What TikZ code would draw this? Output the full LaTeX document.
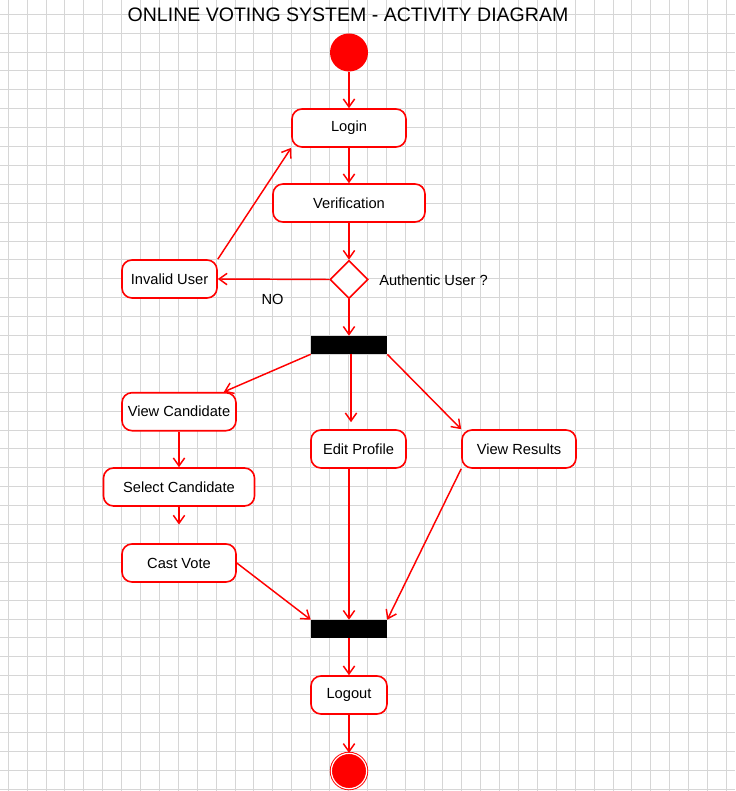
\documentclass[tikz,border=0pt]{standalone}
\usepackage{fontspec}
\setmainfont{Liberation Sans}
\usetikzlibrary{arrows.meta,shapes.geometric,calc}
\definecolor{gridc}{RGB}{214,214,214}
\definecolor{ured}{RGB}{255,0,0}
\begin{document}
\begin{tikzpicture}[x=0.75pt,y=-0.75pt,
  act/.style={draw=ured, line width=1.2pt, rounded corners=7.5pt, fill=white,
    minimum height=28.5pt, inner sep=0pt, font=\fontsize{11pt}{13pt}\selectfont},
  arr/.style={draw=ured, line width=1.1pt,
    -{Straight Barb[length=6pt,width=8.5pt,line width=1.1pt]}},
  barnode/.style={fill=black, minimum width=57pt, minimum height=13.5pt, inner sep=0pt},
  lbl/.style={font=\fontsize{11pt}{13pt}\selectfont, inner sep=0pt}
]
\useasboundingbox (0,0) rectangle (735,791);
\fill[white] (0,0) rectangle (735,791);
\foreach \i in {0,...,38} \draw[gridc, line width=0.75pt] ({8.3+18.898*\i},0) -- ({8.3+18.898*\i},791);
\foreach \i in {0,...,41} \draw[gridc, line width=0.75pt] (0,{14.3+18.898*\i}) -- (735,{14.3+18.898*\i});

\node[font=\fontsize{14.65pt}{16pt}\selectfont, inner sep=0pt] (title) at (348,14.5) {ONLINE VOTING SYSTEM - ACTIVITY DIAGRAM};

\node[circle, fill=ured, minimum size=28.5pt, inner sep=0pt] (start) at (349,52.5) {};
\node[act, minimum width=85.5pt] (login) at (349,128) {Login};
\node[act, minimum width=114pt] (ver) at (349,203) {Verification};
\node[diamond, draw=ured, line width=1.2pt, fill=white, minimum width=28.5pt, minimum height=28.5pt, inner sep=0pt] (dia) at (349,279.5) {};
\node[act, minimum width=71.25pt] (inv) at (169.5,279) {Invalid User};
\node[lbl, anchor=west] (auth) at (379,280) {Authentic User ?};
\node[lbl] (no) at (272.5,299) {NO};
\node[barnode] (fork) at (349,345) {};
\node[act, minimum width=85.5pt] (vc) at (179,411.7) {View Candidate};
\node[act, minimum width=113.25pt] (sc) at (179,487) {Select Candidate};
\node[act, minimum width=85.5pt] (cv) at (179,563) {Cast Vote};
\node[act, minimum width=71.25pt] (ep) at (358.5,449) {Edit Profile};
\node[act, minimum width=85.5pt] (vr) at (519,449) {View Results};
\node[barnode] (join) at (349,629) {};
\node[act, minimum width=57pt] (logout) at (349,695) {Logout};
\node[circle, draw=ured, double=white, double distance=0.9pt, line width=0.7pt, fill=ured, minimum size=26.5pt, inner sep=0pt] (end) at (349,771) {};

\coordinate (eptop) at ($(ep.north)+(-7.5,-7)$);
\coordinate (epfork) at ($(fork.south)+(2,0)$);
\coordinate (epbot) at ($(ep.south)+(-9.5,0)$);
\coordinate (vctop) at ($(vc.north east)+(-13,0)$);

\draw[arr] (start) -- (login);
\draw[arr] (login) -- (ver);
\draw[arr] (ver) -- (dia.north);
\draw[arr] (dia.west) -- (inv.east);
\draw[arr] (inv.north east) -- (login.south west);
\draw[arr] (dia.south) -- (fork.north);
\draw[arr] (fork.south west) -- (vctop);
\draw[arr] (epfork) -- (eptop);
\draw[arr] (fork.south east) -- (vr.north west);
\draw[arr] (vc) -- (sc);
\draw[arr, shorten >=14pt] (sc) -- (cv);
\draw[arr] (cv.east) -- (join.north west);
\draw[arr] (epbot) -- (epbot |- join.north);
\draw[arr] (vr.south west) -- (join.north east);
\draw[arr] (join) -- (logout);
\draw[arr] (logout) -- (end);
\end{tikzpicture}
\end{document}
